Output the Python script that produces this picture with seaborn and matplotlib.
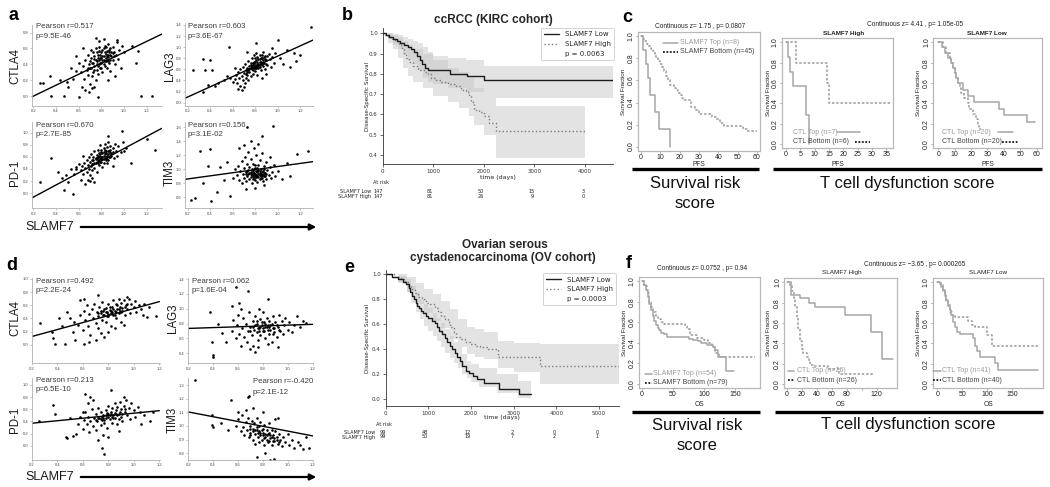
import pandas as pd
import seaborn as sns
import matplotlib.pyplot as plt
from matplotlib import transforms
from matplotlib.lines import Line2D

W, H = 1050, 487

# ---------------- panels a / d : SLAMF7 vs checkpoint genes ----------------
sc_xticks = [0.2, 0.4, 0.6, 0.8, 1.0, 1.2]

a_ctla4 = [(0.62, 0.30), (0.64, 0.38), (0.65, 0.22), (0.66, 0.45), (0.67, 0.33), (0.68, 0.27), (0.68, 0.52),
           (0.69, 0.40), (0.70, 0.15), (0.70, 0.35), (0.71, 0.48), (0.71, 0.58), (0.72, 0.25), (0.72, 0.42),
           (0.73, 0.30), (0.73, 0.55), (0.74, 0.38), (0.74, 0.47), (0.75, 0.20), (0.75, 0.60), (0.76, 0.33),
           (0.76, 0.44), (0.77, 0.52), (0.77, 0.28), (0.78, 0.40), (0.78, 0.62), (0.79, 0.48), (0.79, 0.35),
           (0.80, 0.55), (0.80, 0.42), (0.81, 0.30), (0.81, 0.58), (0.82, 0.46), (0.82, 0.50), (0.83, 0.38),
           (0.83, 0.63), (0.84, 0.53), (0.84, 0.44), (0.85, 0.57), (0.85, 0.36), (0.86, 0.49), (0.86, 0.66),
           (0.87, 0.42), (0.87, 0.55), (0.88, 0.60), (0.88, 0.32), (0.89, 0.50), (0.90, 0.45), (0.90, 0.62),
           (0.91, 0.56), (0.92, 0.40), (0.93, 0.52), (0.94, 0.68), (0.95, 0.47), (0.96, 0.58), (0.97, 0.35),
           (0.98, 0.63), (1.00, 0.55), (0.63, 0.12), (0.66, 0.08), (0.69, 0.05), (0.72, 0.10), (0.60, 0.42),
           (0.58, 0.50), (0.64, 0.60), (0.78, 0.70), (0.82, 0.72), (0.74, 0.12), (0.86, 0.20), (0.92, 0.25),
           (0.26, 0.17), (0.29, 0.17), (0.36, 0.00), (0.35, 0.25), (0.44, 0.20), (0.47, 0.00), (0.51, 0.11),
           (0.55, 0.22), (0.58, 0.32), (0.60, -0.01), (0.77, -0.01), (1.15, 0.00), (1.25, 0.00), (1.12, 0.57),
           (1.11, 0.42), (1.07, 0.63), (0.94, 0.71), (0.75, 0.73), (0.50, 0.18), (0.53, 0.35)]
a_ctla4_core = [(0.74, 0.50), (0.76, 0.40), (0.78, 0.45), (0.80, 0.48), (0.82, 0.40), (0.84, 0.48), (0.86, 0.44),
                (0.88, 0.52), (0.79, 0.52), (0.81, 0.50), (0.83, 0.55), (0.85, 0.46), (0.77, 0.38), (0.75, 0.46),
                (0.73, 0.42), (0.71, 0.36), (0.80, 0.36), (0.82, 0.60), (0.84, 0.62), (0.87, 0.58), (0.89, 0.56),
                (0.91, 0.50), (0.76, 0.55), (0.78, 0.57), (0.70, 0.44), (0.68, 0.36), (0.83, 0.44), (0.86, 0.52),
                (0.79, 0.42), (0.81, 0.46), (0.74, 0.33), (0.88, 0.46), (0.90, 0.54), (0.77, 0.48), (0.85, 0.50)]
a_lag3 = [(0.62, 0.42), (0.63, 0.50), (0.64, 0.36), (0.65, 0.55), (0.66, 0.45), (0.67, 0.30), (0.67, 0.60),
          (0.68, 0.48), (0.69, 0.40), (0.69, 0.65), (0.70, 0.53), (0.71, 0.35), (0.71, 0.70), (0.72, 0.58),
          (0.72, 0.45), (0.73, 0.62), (0.73, 0.50), (0.74, 0.75), (0.74, 0.40), (0.75, 0.66), (0.75, 0.55),
          (0.76, 0.48), (0.76, 0.72), (0.77, 0.60), (0.77, 0.80), (0.78, 0.52), (0.78, 0.68), (0.79, 0.62),
          (0.79, 0.85), (0.80, 0.57), (0.80, 0.74), (0.81, 0.66), (0.81, 0.90), (0.82, 0.70), (0.82, 0.50),
          (0.83, 0.78), (0.83, 0.62), (0.84, 0.85), (0.84, 0.68), (0.85, 0.74), (0.85, 0.58), (0.86, 0.80),
          (0.87, 0.66), (0.87, 0.92), (0.88, 0.72), (0.89, 0.60), (0.89, 0.84), (0.90, 0.76), (0.91, 0.68),
          (0.92, 0.88), (0.93, 0.78), (0.94, 0.64), (0.95, 0.82), (0.97, 0.72), (0.98, 0.90), (0.65, 0.25),
          (0.68, 0.22), (0.70, 0.28), (0.60, 0.38), (0.58, 0.45), (0.73, 0.92), (0.86, 0.45), (0.90, 0.52),
          (0.62, 0.62), (1.02, 0.80), (1.05, 0.70), (0.25, 0.58), (0.335, 0.78), (0.40, 0.76), (0.35, 0.58),
          (0.42, 0.58), (0.38, 0.32), (0.335, 0.20), (0.44, 0.30), (0.47, 0.36), (0.52, 0.40), (0.55, 0.48),
          (0.57, 1.01), (1.30, 1.37), (1.16, 0.75), (1.15, 0.89), (1.11, 0.65), (1.00, 1.13), (0.95, 0.98),
          (0.81, 1.07), (1.08, 0.95), (1.20, 0.85)]
a_lag3_core = [(0.78, 0.72), (0.80, 0.66), (0.82, 0.74), (0.84, 0.78), (0.86, 0.70), (0.76, 0.62), (0.79, 0.70),
               (0.81, 0.62), (0.83, 0.70), (0.85, 0.80), (0.87, 0.76), (0.88, 0.82), (0.74, 0.58), (0.72, 0.52),
               (0.77, 0.66), (0.80, 0.80), (0.82, 0.64), (0.84, 0.74), (0.86, 0.86), (0.90, 0.70), (0.75, 0.60),
               (0.78, 0.58), (0.81, 0.76), (0.83, 0.66), (0.85, 0.70), (0.79, 0.74), (0.76, 0.68), (0.89, 0.78),
               (0.91, 0.84), (0.73, 0.56), (0.80, 0.62), (0.84, 0.64), (0.87, 0.72), (0.82, 0.82), (0.78, 0.64)]
a_pd1 = [(0.62, 0.38), (0.63, 0.45), (0.64, 0.32), (0.65, 0.50), (0.66, 0.42), (0.67, 0.35), (0.67, 0.55),
         (0.68, 0.47), (0.69, 0.40), (0.69, 0.60), (0.70, 0.52), (0.70, 0.30), (0.71, 0.45), (0.71, 0.65),
         (0.72, 0.55), (0.72, 0.38), (0.73, 0.60), (0.73, 0.48), (0.74, 0.70), (0.74, 0.42), (0.75, 0.58),
         (0.75, 0.50), (0.76, 0.63), (0.76, 0.35), (0.77, 0.55), (0.77, 0.72), (0.78, 0.47), (0.78, 0.62),
         (0.79, 0.58), (0.79, 0.80), (0.80, 0.52), (0.80, 0.68), (0.81, 0.60), (0.81, 0.44), (0.82, 0.74),
         (0.82, 0.56), (0.83, 0.65), (0.83, 0.82), (0.84, 0.58), (0.84, 0.70), (0.85, 0.50), (0.85, 0.77),
         (0.86, 0.64), (0.86, 0.85), (0.87, 0.70), (0.88, 0.60), (0.88, 0.78), (0.89, 0.67), (0.90, 0.74),
         (0.91, 0.58), (0.92, 0.82), (0.93, 0.70), (0.94, 0.62), (0.95, 0.78), (0.97, 0.68), (0.60, 0.48),
         (0.58, 0.40), (0.62, 0.22), (0.66, 0.15), (0.70, 0.20), (0.64, 0.62), (0.72, 0.25), (0.90, 0.45),
         (1.02, 0.75), (0.99, 0.85), (0.56, 0.32), (0.53, 0.40), (0.26, 0.19), (0.36, 0.58), (0.45, 0.25),
         (0.47, 0.05), (0.55, -0.01), (0.51, 0.19), (0.58, 0.44), (0.98, 1.02), (1.20, 0.90), (1.27, 0.71),
         (1.06, 0.49), (1.00, 0.70), (0.68, 0.22), (0.74, 0.19), (0.42, 0.35), (0.49, 0.30), (0.86, 0.95)]
a_pd1_core = [(0.78, 0.55), (0.80, 0.60), (0.82, 0.62), (0.84, 0.66), (0.76, 0.52), (0.74, 0.50), (0.79, 0.64),
              (0.81, 0.56), (0.83, 0.58), (0.85, 0.62), (0.86, 0.70), (0.88, 0.66), (0.72, 0.48), (0.77, 0.60),
              (0.80, 0.72), (0.82, 0.50), (0.84, 0.54), (0.87, 0.60), (0.89, 0.62), (0.75, 0.56), (0.78, 0.66),
              (0.81, 0.66), (0.83, 0.72), (0.85, 0.56), (0.79, 0.52), (0.76, 0.58), (0.90, 0.68), (0.73, 0.54),
              (0.80, 0.56), (0.82, 0.68), (0.86, 0.54), (0.88, 0.72), (0.77, 0.50), (0.84, 0.60), (0.79, 0.60)]
a_tim3 = [(0.64, 0.92), (0.65, 1.05), (0.66, 0.85), (0.67, 0.98), (0.68, 1.12), (0.68, 0.80), (0.69, 0.94),
          (0.70, 1.02), (0.70, 0.88), (0.71, 1.18), (0.72, 0.96), (0.72, 0.83), (0.73, 1.08), (0.73, 0.90),
          (0.74, 1.25), (0.74, 0.99), (0.75, 0.86), (0.75, 1.03), (0.76, 0.93), (0.76, 1.15), (0.77, 0.80),
          (0.77, 1.00), (0.78, 0.90), (0.78, 1.08), (0.79, 0.95), (0.79, 1.30), (0.80, 0.85), (0.80, 1.02),
          (0.81, 0.92), (0.81, 1.20), (0.82, 0.98), (0.82, 0.82), (0.83, 1.06), (0.83, 0.89), (0.84, 0.95),
          (0.84, 1.14), (0.85, 0.87), (0.85, 1.00), (0.86, 0.92), (0.86, 1.24), (0.87, 0.97), (0.87, 0.83),
          (0.88, 1.05), (0.88, 0.90), (0.89, 0.95), (0.90, 1.10), (0.90, 0.86), (0.91, 0.99), (0.92, 0.92),
          (0.93, 1.03), (0.94, 0.88), (0.95, 0.96), (0.97, 1.06), (0.98, 0.90), (1.00, 0.98), (0.62, 1.00),
          (0.60, 0.88), (0.66, 1.30), (0.70, 1.35), (0.76, 1.40), (0.83, 1.36), (0.72, 0.72), (0.80, 0.74),
          (0.88, 0.78), (0.93, 1.18), (0.227, 0.56), (0.265, 0.59), (0.31, 1.26), (0.38, 1.05), (0.40, 1.29),
          (0.34, 0.81), (0.41, 0.55), (0.46, 0.67), (0.49, 1.03), (0.58, 0.62), (0.73, 1.60), (0.96, 1.62),
          (0.86, 1.48), (1.17, 1.22), (1.27, 1.26), (1.08, 1.09), (1.11, 0.91), (1.04, 0.86), (0.52, 0.85),
          (0.55, 1.10)]
a_tim3_core = [(0.78, 0.97), (0.80, 0.94), (0.82, 0.90), (0.84, 0.92), (0.76, 0.96), (0.74, 0.93), (0.79, 0.88),
               (0.81, 0.97), (0.83, 0.94), (0.85, 0.91), (0.86, 0.96), (0.88, 0.95), (0.72, 0.94), (0.77, 0.92),
               (0.80, 0.90), (0.82, 1.02), (0.84, 0.86), (0.87, 0.92), (0.89, 0.90), (0.75, 0.95), (0.78, 0.86),
               (0.81, 0.89), (0.83, 0.99), (0.85, 0.94), (0.79, 1.00), (0.76, 0.89), (0.90, 0.93), (0.73, 0.97),
               (0.80, 1.06), (0.82, 0.96), (0.86, 0.88), (0.88, 1.00), (0.77, 0.95), (0.84, 0.98), (0.79, 0.93)]

d_ctla4 = [(0.56, 0.30), (0.58, 0.45), (0.60, 0.22), (0.61, 0.52), (0.62, 0.38), (0.63, 0.60), (0.64, 0.28),
           (0.65, 0.47), (0.66, 0.15), (0.67, 0.55), (0.68, 0.40), (0.69, 0.62), (0.70, 0.33), (0.71, 0.50),
           (0.72, 0.44), (0.72, 0.25), (0.73, 0.58), (0.74, 0.48), (0.75, 0.38), (0.75, 0.65), (0.76, 0.52),
           (0.77, 0.45), (0.77, 0.12), (0.78, 0.56), (0.78, 0.35), (0.79, 0.50), (0.80, 0.62), (0.80, 0.44),
           (0.81, 0.53), (0.82, 0.28), (0.82, 0.48), (0.83, 0.58), (0.84, 0.46), (0.84, 0.68), (0.85, 0.52),
           (0.86, 0.40), (0.86, 0.62), (0.87, 0.55), (0.88, 0.48), (0.88, 0.70), (0.89, 0.58), (0.90, 0.35),
           (0.90, 0.64), (0.91, 0.52), (0.92, 0.68), (0.93, 0.45), (0.94, 0.60), (0.95, 0.55), (0.96, 0.70),
           (0.97, 0.48), (0.98, 0.62), (1.00, 0.58), (1.01, 0.66), (1.02, 0.50), (1.04, 0.60), (1.06, 0.55),
           (1.08, 0.62), (1.12, 0.58), (0.70, 0.08), (0.74, 0.18), (0.80, 0.20), (0.85, 0.25), (0.92, 0.30),
           (0.65, 0.05), (0.52, 0.20), (0.50, 0.40), (0.265, 0.33), (0.36, 0.20), (0.37, 0.10), (0.38, 0.02),
           (0.41, 0.41), (0.44, 0.28), (0.46, 0.02), (0.48, 0.50), (0.54, 0.08), (0.53, 0.35), (0.58, 0.68),
           (0.61, 0.69), (0.72, 0.76), (0.95, 0.72), (1.07, 0.45), (1.10, 0.42), (0.61, 0.02), (1.17, 0.44),
           (0.78, 0.50), (0.80, 0.47), (0.82, 0.52), (0.84, 0.55), (0.86, 0.50), (0.88, 0.54), (0.90, 0.50),
           (0.76, 0.46), (0.74, 0.52), (0.79, 0.44), (0.81, 0.58), (0.83, 0.50), (0.85, 0.46), (0.87, 0.60),
           (0.89, 0.52), (0.91, 0.56), (0.93, 0.58), (0.95, 0.62), (0.77, 0.54), (0.72, 0.48)]
d_lag3 = [(0.55, 0.70), (0.56, 0.85), (0.58, 0.60), (0.59, 0.78), (0.60, 0.92), (0.61, 0.66), (0.62, 0.50),
          (0.63, 0.74), (0.64, 0.88), (0.65, 0.62), (0.66, 0.80), (0.67, 0.55), (0.68, 0.70), (0.69, 0.95),
          (0.70, 0.76), (0.71, 0.64), (0.72, 0.84), (0.72, 0.50), (0.73, 0.72), (0.74, 0.90), (0.75, 0.68),
          (0.75, 0.80), (0.76, 0.58), (0.77, 0.74), (0.78, 0.86), (0.78, 0.64), (0.79, 0.78), (0.80, 0.70),
          (0.80, 0.96), (0.81, 0.82), (0.82, 0.60), (0.82, 0.76), (0.83, 0.88), (0.84, 0.72), (0.85, 0.66),
          (0.85, 0.84), (0.86, 0.78), (0.87, 0.55), (0.88, 0.90), (0.88, 0.74), (0.89, 0.68), (0.90, 0.82),
          (0.91, 0.62), (0.92, 0.76), (0.93, 0.92), (0.94, 0.70), (0.95, 0.84), (0.96, 0.66), (0.97, 0.78),
          (0.98, 0.88), (1.00, 0.72), (1.01, 0.82), (1.03, 0.68), (1.05, 0.78), (1.07, 0.90), (1.10, 0.76),
          (0.70, 0.46), (0.76, 0.48), (0.84, 0.52), (0.62, 1.00), (0.77, 1.00), (0.374, 0.96), (0.39, 0.55),
          (0.40, 0.35), (0.40, 0.38), (0.55, 1.04), (0.61, 1.08), (0.585, 1.29), (0.68, 1.24), (0.84, 1.13),
          (0.44, 0.80), (0.47, 0.67), (1.12, 0.83), (1.15, 0.81), (0.50, 0.55), (0.74, 0.42), (0.92, 0.48),
          (0.78, 0.76), (0.80, 0.74), (0.82, 0.80), (0.84, 0.78), (0.86, 0.72), (0.76, 0.74), (0.74, 0.78),
          (0.79, 0.82), (0.81, 0.70), (0.83, 0.76), (0.85, 0.76), (0.87, 0.80), (0.89, 0.74), (0.91, 0.78),
          (0.77, 0.70), (0.72, 0.76), (0.75, 0.84), (0.88, 0.66), (0.93, 0.72), (0.70, 0.70)]
d_pd1 = [(0.56, 0.35), (0.58, 0.48), (0.60, 0.28), (0.61, 0.42), (0.62, 0.55), (0.63, 0.36), (0.64, 0.48),
         (0.65, 0.22), (0.66, 0.40), (0.67, 0.60), (0.68, 0.32), (0.69, 0.46), (0.70, 0.52), (0.70, 0.26),
         (0.71, 0.40), (0.72, 0.62), (0.73, 0.45), (0.74, 0.34), (0.74, 0.55), (0.75, 0.42), (0.76, 0.50),
         (0.76, 0.18), (0.77, 0.38), (0.78, 0.58), (0.78, 0.46), (0.79, 0.30), (0.80, 0.52), (0.80, 0.66),
         (0.81, 0.44), (0.82, 0.56), (0.83, 0.38), (0.83, 0.62), (0.84, 0.50), (0.85, 0.70), (0.85, 0.45),
         (0.86, 0.58), (0.87, 0.35), (0.87, 0.64), (0.88, 0.52), (0.89, 0.72), (0.90, 0.48), (0.90, 0.60),
         (0.91, 0.40), (0.92, 0.66), (0.93, 0.55), (0.94, 0.75), (0.95, 0.50), (0.96, 0.62), (0.97, 0.44),
         (0.98, 0.70), (1.00, 0.58), (1.01, 0.48), (1.03, 0.64), (1.05, 0.55), (1.08, 0.50), (0.72, 0.10),
         (0.80, 0.14), (0.88, 0.24), (0.68, 0.76), (0.92, 0.80), (0.64, 0.70), (0.26, 0.40), (0.37, 0.67),
         (0.38, 0.53), (0.47, 0.15), (0.48, 0.12), (0.52, 0.16), (0.55, 0.19), (0.60, 0.56), (0.62, 0.85),
         (0.66, 0.80), (0.75, -0.04), (0.77, -0.13), (0.82, 0.92), (1.06, 0.36), (1.13, 0.40), (0.50, 0.45),
         (1.15, 0.55), (0.78, 0.50), (0.80, 0.48), (0.82, 0.52), (0.84, 0.46), (0.86, 0.52), (0.76, 0.46),
         (0.74, 0.44), (0.79, 0.54), (0.81, 0.50), (0.83, 0.48), (0.85, 0.54), (0.87, 0.50), (0.89, 0.56),
         (0.91, 0.52), (0.77, 0.42), (0.72, 0.46), (0.75, 0.48), (0.88, 0.44), (0.93, 0.60), (0.70, 0.42)]
d_tim3 = [(0.58, 1.00), (0.60, 1.05), (0.62, 0.96), (0.63, 1.08), (0.64, 0.99), (0.65, 0.93), (0.66, 1.03),
          (0.67, 0.97), (0.68, 1.06), (0.69, 0.92), (0.70, 1.00), (0.70, 0.95), (0.71, 1.04), (0.72, 0.90),
          (0.72, 0.98), (0.73, 1.02), (0.74, 0.94), (0.74, 0.87), (0.75, 0.97), (0.75, 1.06), (0.76, 0.92),
          (0.77, 1.00), (0.77, 0.88), (0.78, 0.95), (0.78, 1.03), (0.79, 0.90), (0.80, 0.98), (0.80, 0.93),
          (0.81, 0.86), (0.81, 1.01), (0.82, 0.94), (0.83, 0.90), (0.83, 0.97), (0.84, 0.88), (0.85, 0.95),
          (0.85, 1.02), (0.86, 0.91), (0.87, 0.86), (0.87, 0.97), (0.88, 0.93), (0.89, 0.89), (0.90, 0.96),
          (0.90, 1.05), (0.91, 0.92), (0.92, 0.87), (0.93, 0.94), (0.94, 0.90), (0.95, 0.85), (0.96, 0.92),
          (0.98, 0.88), (1.00, 0.94), (1.01, 0.86), (1.03, 0.90), (1.05, 0.84), (1.08, 0.88), (1.10, 0.86),
          (1.12, 0.83), (1.17, 0.84), (0.66, 1.12), (0.72, 1.13), (0.80, 1.10), (0.92, 1.06), (0.25, 1.34),
          (0.39, 1.08), (0.39, 1.005), (0.40, 0.99), (0.54, 1.19), (0.60, 1.10), (0.68, 1.21), (0.69, 1.22),
          (0.52, 0.97), (0.70, 0.93), (0.75, 0.77), (0.82, 0.80), (0.86, 0.75), (0.89, 0.76), (0.46, 1.02),
          (1.15, 0.92), (0.78, 0.93), (0.80, 0.95), (0.82, 0.92), (0.84, 0.94), (0.86, 0.93), (0.76, 0.95),
          (0.74, 0.97), (0.79, 0.97), (0.81, 0.91), (0.83, 0.93), (0.85, 0.89), (0.87, 0.92), (0.89, 0.91),
          (0.91, 0.90), (0.77, 0.96), (0.72, 0.96), (0.75, 0.99), (0.88, 0.89), (0.93, 0.88), (0.70, 0.98)]

# regression line end points
a_fit_x = [0.186, 1.333]
a_fit_x2 = [0.176, 1.318]
a_ctla4_fit = [-0.01, 0.78]
a_lag3_fit = [0.08, 1.13]
a_pd1_fit = [-0.08, 1.07]
a_tim3_fit = [0.857, 1.11]
d_fit_x = [0.2, 1.2]
d_ctla4_fit = [0.126, 0.656]
d_lag3_fit = [0.735, 0.79]
d_pd1_fit = [0.37, 0.577]
d_tim3_fit = [1.103, 0.927]

a_stats = ['Pearson r=0.517\np=9.5E-46', 'Pearson r=0.603\np=3.6E-67',
           'Pearson r=0.670\np=2.7E-85', 'Pearson r=0.156\np=3.1E-02']
d_stats = ['Pearson r=0.492\np=2.2E-24', 'Pearson r=0.062\np=1.6E-04',
           'Pearson r=0.213\np=6.5E-10', 'Pearson r=-0.420\np=2.1E-12']
genes = ['CTLA4', 'LAG3', 'PD-1', 'TIM3']

# ---------------- panel b : KIRC Kaplan-Meier ----------------
b_low_t = [0, 60, 120, 200, 280, 350, 420, 500, 560, 620, 680, 730, 780, 840, 900, 1330, 1660, 2000, 4550]
b_low_s = [1.0, 0.99, 0.98, 0.97, 0.96, 0.95, 0.94, 0.93, 0.92, 0.91, 0.89, 0.87, 0.85, 0.83, 0.82, 0.80,
           0.79, 0.77, 0.77]
b_high_t = [0, 50, 100, 180, 250, 320, 380, 420, 470, 520, 600, 700, 820, 900, 960, 1050, 1150, 1300, 1450,
            1550, 1650, 1700, 1750, 1800, 1900, 2000, 2100, 2240, 4000]
b_high_s = [1.0, 0.99, 0.98, 0.97, 0.96, 0.94, 0.92, 0.90, 0.88, 0.86, 0.84, 0.82, 0.81, 0.80, 0.78, 0.77,
            0.76, 0.75, 0.74, 0.72, 0.71, 0.69, 0.66, 0.62, 0.61, 0.59, 0.56, 0.52, 0.52]
b_low_band_t = [0, 100, 200, 300, 400, 500, 600, 700, 800, 900, 1000, 1300, 1650, 2000, 4550]
b_low_lo = [1.0, 0.97, 0.94, 0.92, 0.90, 0.87, 0.85, 0.82, 0.78, 0.76, 0.75, 0.73, 0.71, 0.68, 0.68]
b_low_hi = [1.0, 1.0, 0.995, 0.99, 0.98, 0.97, 0.96, 0.95, 0.93, 0.91, 0.89, 0.88, 0.87, 0.84, 0.84]
b_high_band_t = [0, 100, 200, 300, 400, 500, 600, 800, 1000, 1300, 1500, 1700, 1800, 2000, 2240, 4000]
b_high_lo = [1.0, 0.95, 0.92, 0.88, 0.83, 0.79, 0.76, 0.73, 0.69, 0.66, 0.63, 0.59, 0.55, 0.50, 0.385, 0.385]
b_high_hi = [1.0, 1.0, 0.99, 0.98, 0.96, 0.94, 0.92, 0.90, 0.87, 0.83, 0.81, 0.78, 0.73, 0.68, 0.64, 0.64]
b_risk_t = [0, 1000, 2000, 3000, 4000]
b_risk_low = [147, 81, 50, 15, 3]
b_risk_high = [147, 81, 26, 9, 0]

# ---------------- panel e : OV Kaplan-Meier ----------------
e_low_t = [0, 150, 300, 400, 480, 540, 580, 620, 660, 700, 740, 780, 830, 880, 950, 1000, 1080, 1150, 1200,
           1260, 1320, 1380, 1440, 1500, 1560, 1620, 1680, 1740, 1800, 1880, 1950, 2050, 2150, 2300, 2650,
           3130, 3400]
e_low_s = [1.0, 0.98, 0.96, 0.94, 0.92, 0.89, 0.86, 0.83, 0.80, 0.77, 0.75, 0.73, 0.71, 0.69, 0.67, 0.65,
           0.63, 0.61, 0.58, 0.55, 0.52, 0.49, 0.46, 0.43, 0.40, 0.37, 0.34, 0.31, 0.27, 0.23, 0.21, 0.19,
           0.16, 0.13, 0.085, 0.04, 0.04]
e_high_t = [0, 200, 350, 450, 530, 600, 680, 760, 850, 950, 1050, 1150, 1230, 1300, 1380, 1450, 1520, 1600,
            1660, 1750, 1850, 1980, 2100, 2210, 2400, 2640, 3620, 5480]
e_high_s = [1.0, 0.98, 0.96, 0.94, 0.91, 0.88, 0.85, 0.82, 0.80, 0.77, 0.76, 0.73, 0.70, 0.67, 0.64, 0.62,
            0.58, 0.54, 0.50, 0.48, 0.46, 0.445, 0.43, 0.42, 0.40, 0.34, 0.27, 0.27]
e_low_band_t = [0, 300, 500, 600, 700, 800, 900, 1000, 1100, 1200, 1300, 1400, 1500, 1600, 1700, 1800, 1900,
                2000, 2200, 2600, 3100, 3400]
e_low_lo = [1.0, 0.94, 0.86, 0.77, 0.70, 0.64, 0.59, 0.55, 0.51, 0.47, 0.42, 0.37, 0.33, 0.29, 0.25, 0.20,
            0.17, 0.14, 0.10, 0.05, 0.01, 0.01]
e_low_hi = [1.0, 0.99, 0.96, 0.91, 0.86, 0.80, 0.76, 0.73, 0.69, 0.65, 0.61, 0.56, 0.51, 0.46, 0.42, 0.36,
            0.31, 0.28, 0.25, 0.20, 0.15, 0.15]
e_high_band_t = [0, 300, 500, 700, 900, 1100, 1300, 1500, 1700, 1900, 2100, 2300, 2640, 3000, 3620, 5480]
e_high_lo = [1.0, 0.93, 0.86, 0.76, 0.69, 0.63, 0.57, 0.48, 0.42, 0.36, 0.34, 0.32, 0.25, 0.22, 0.12, 0.12]
e_high_hi = [1.0, 1.0, 0.98, 0.93, 0.88, 0.84, 0.79, 0.72, 0.64, 0.58, 0.56, 0.54, 0.47, 0.45, 0.44, 0.44]
e_risk_t = [0, 1000, 2000, 3000, 4000, 5000]
e_risk_low = [99, 48, 12, 2, 0, 0]
e_risk_high = [99, 50, 19, 7, 2, 1]

# ---------------- panels c / f : TIDE style survival curves ----------------
c1_top_t = [0, 1, 2.5, 3.5, 4.5, 7, 9.5, 15]
c1_top_s = [1.0, 0.875, 0.75, 0.625, 0.47, 0.31, 0.16, 0.0]
c1_bot_t = [0, 1, 2, 3, 4, 5, 6, 7, 8, 9, 10, 11, 12, 13, 14, 15, 17, 18, 19, 20, 21, 22, 26, 28, 30, 37,
            39, 41, 43, 53, 55, 60]
c1_bot_s = [1.0, 0.98, 0.96, 0.93, 0.91, 0.89, 0.87, 0.84, 0.80, 0.78, 0.75, 0.72, 0.69, 0.64, 0.60, 0.56,
            0.53, 0.51, 0.49, 0.47, 0.44, 0.42, 0.36, 0.33, 0.30, 0.27, 0.25, 0.21, 0.19, 0.16, 0.14, 0.14]
c2_top_t = [0, 0.6, 1.6, 2.6, 7.0, 8.0]
c2_top_s = [1.0, 0.857, 0.714, 0.571, 0.286, 0.0]
c2_bot_t = [0, 3.4, 14.2, 15.0, 36.5]
c2_bot_s = [1.0, 0.8, 0.6, 0.4, 0.4]
c3_top_t = [0, 2, 4, 6, 8, 9, 10, 11, 12, 15, 18, 22, 37, 40, 54, 59]
c3_top_s = [1.0, 0.95, 0.90, 0.85, 0.80, 0.75, 0.70, 0.65, 0.60, 0.53, 0.47, 0.41, 0.35, 0.29, 0.22, 0.22]
c3_bot_t = [0, 3, 5, 7, 8, 9, 10, 11, 12, 13, 14, 16, 18, 19, 21, 23, 24, 25, 26]
c3_bot_s = [1.0, 0.95, 0.90, 0.85, 0.80, 0.75, 0.70, 0.65, 0.60, 0.55, 0.50, 0.45, 0.40, 0.35, 0.30, 0.25,
            0.20, 0.15, 0.15]

f1_top_t = [0, 3, 6, 9, 11, 14, 17, 19, 22, 25, 27, 31, 35, 41, 76, 82, 90, 95, 105, 114, 118, 122, 136, 148]
f1_top_s = [1.0, 0.96, 0.91, 0.85, 0.78, 0.72, 0.66, 0.61, 0.57, 0.54, 0.52, 0.50, 0.49, 0.46, 0.44, 0.43,
            0.42, 0.40, 0.38, 0.36, 0.33, 0.26, 0.13, 0.13]
f1_bot_t = [0, 4, 8, 11, 14, 18, 22, 26, 30, 36, 70, 72, 78, 88, 100, 106, 112, 118, 124, 182]
f1_bot_s = [1.0, 0.95, 0.88, 0.80, 0.75, 0.70, 0.66, 0.63, 0.60, 0.58, 0.57, 0.53, 0.48, 0.45, 0.43, 0.40,
            0.36, 0.30, 0.26, 0.26]
f2_top_t = [0, 6, 18, 29, 38, 78, 112, 127, 142]
f2_top_s = [1.0, 0.88, 0.85, 0.80, 0.76, 0.68, 0.51, 0.25, 0.25]
f2_bot_t = [0, 4, 7, 9, 11, 13, 15.5, 18, 20, 22, 27, 29, 31, 36, 55, 70, 115]
f2_bot_s = [1.0, 0.96, 0.92, 0.85, 0.77, 0.65, 0.55, 0.42, 0.35, 0.31, 0.27, 0.23, 0.19, 0.18, 0.15, 0.096,
            0.096]
f3_top_t = [0, 5, 8, 11, 15, 18, 21, 25, 28, 31, 35, 40, 45, 71, 75, 80, 85, 115, 121, 202]
f3_top_s = [1.0, 0.98, 0.95, 0.93, 0.88, 0.83, 0.78, 0.73, 0.68, 0.61, 0.56, 0.51, 0.49, 0.45, 0.38, 0.33,
            0.27, 0.21, 0.14, 0.14]
f3_bot_t = [0, 8, 12, 15, 18, 22, 26, 30, 35, 62, 70, 75, 100, 110, 204]
f3_bot_s = [1.0, 0.97, 0.92, 0.87, 0.82, 0.77, 0.71, 0.68, 0.66, 0.62, 0.58, 0.56, 0.48, 0.38, 0.38]


sns.set_theme(style='ticks')
plt.rcParams['font.family'] = ['Liberation Sans', 'DejaVu Sans']

fig = plt.figure(figsize=(W / 100, H / 100), dpi=100)
ov = fig.add_axes([0, 0, 1, 1])
ov.set_xlim(0, W)
ov.set_ylim(H, 0)
ov.axis('off')
ov.set_zorder(10)
ov.patch.set_visible(False)


def px_axes(l, t, r, b):
    return fig.add_axes([l / W, 1 - b / H, (r - l) / W, (b - t) / H])


def scatter_panel(box, pts, fit_x, fit_y, xlim, ylim, yticks):
    ax = px_axes(*box)
    df = pd.DataFrame(pts, columns=['slamf7', 'gene'])
    sns.scatterplot(data=df, x='slamf7', y='gene', ax=ax, s=3.5, color='black',
                    linewidth=0, legend=False)
    sns.lineplot(x=fit_x, y=fit_y, ax=ax, color='black', linewidth=1.0)
    ax.set_xlim(xlim)
    ax.set_ylim(ylim)
    ax.set_xticks(sc_xticks)
    ax.set_xticklabels([f'{v:.1f}' for v in sc_xticks])
    ax.set_yticks(yticks)
    ax.set_yticklabels([f'{v:.1f}' for v in yticks])
    ax.set_xlabel('')
    ax.set_ylabel('')
    sns.despine(ax=ax)
    for s in ['left', 'bottom']:
        ax.spines[s].set_color('#b0b0b0')
        ax.spines[s].set_linewidth(0.6)
    ax.tick_params(labelsize=3, length=1.5, width=0.4, color='#999999', labelcolor='#444444', pad=1)
    return ax


def steps(ax, t, s, **kw):
    sns.lineplot(x=t, y=s, ax=ax, drawstyle='steps-post', estimator=None, sort=False, legend=False, **kw)


def r_panel(box, xlim, xticks, xticklabels, curves):
    ax = px_axes(*box)
    for t, s, kw in curves:
        steps(ax, t, s, **kw)
    ax.set_xlim(xlim)
    ax.set_ylim(-0.04, 1.04)
    ax.set_xticks(xticks)
    ax.set_xticklabels(xticklabels)
    yt = [0, 0.2, 0.4, 0.6, 0.8, 1.0]
    ax.set_yticks(yt)
    ax.set_yticklabels([f'{v:.1f}' for v in yt], rotation=90, va='center')
    for sp in ax.spines.values():
        sp.set_visible(True)
        sp.set_color('#b8b8b8')
        sp.set_linewidth(0.9)
    ax.tick_params(labelsize=5, length=1.5, width=0.5, color='#888888', labelcolor='#222222', pad=0.8)
    ax.set_xlabel('')
    ax.set_ylabel('')
    return ax


# ---- scatter panels ----
a_boxes = [(31.7, 25, 161.7, 106), (185, 23, 313.3, 106), (31.7, 121.7, 161.7, 208.3), (185, 121.7, 313.3, 208.3)]
a_pts = [a_ctla4 + a_ctla4_core, a_lag3 + a_lag3_core, a_pd1 + a_pd1_core, a_tim3 + a_tim3_core]
a_fits = [a_ctla4_fit, a_lag3_fit, a_pd1_fit, a_tim3_fit]
a_xl = [(0.186, 1.333), (0.176, 1.318), (0.186, 1.333), (0.176, 1.318)]
a_fx = [a_fit_x, a_fit_x2, a_fit_x, a_fit_x2]
a_yl = [(-0.124, 0.895), (-0.06, 1.435), (-0.25, 1.18), (0.443, 1.68)]
a_yt = [[0, 0.2, 0.4, 0.6, 0.8], [0, 0.2, 0.4, 0.6, 0.8, 1.0, 1.2, 1.4],
        [0, 0.2, 0.4, 0.6, 0.8, 1.0], [0.6, 0.8, 1.0, 1.2, 1.4, 1.6]]
for i in range(4):
    scatter_panel(a_boxes[i], a_pts[i], a_fx[i], a_fits[i], a_xl[i], a_yl[i], a_yt[i])

d_boxes = [(31.7, 278.3, 160, 363.3), (188.3, 278.3, 313.3, 363.3), (31.7, 378.3, 160, 460), (188.3, 378.3, 313.3, 460)]
d_pts = [d_ctla4, d_lag3, d_pd1, d_tim3]
d_fits = [d_ctla4_fit, d_lag3_fit, d_pd1_fit, d_tim3_fit]
d_yl = [(-0.28, 1.01), (0.265, 1.41), (-0.235, 1.11), (0.75, 1.35)]
d_yt = [[0, 0.2, 0.4, 0.6, 0.8, 1.0], [0.4, 0.6, 0.8, 1.0, 1.2, 1.4],
        [0, 0.2, 0.4, 0.6, 0.8, 1.0], [0.8, 0.9, 1.0, 1.1, 1.2, 1.3]]
for i in range(4):
    scatter_panel(d_boxes[i], d_pts[i], d_fit_x, d_fits[i], (0.2, 1.205), d_yl[i], d_yt[i])

# gene labels and stats
txt = dict(ha='center', va='center', fontsize=8.3, rotation=90, color='#1a1a1a')
for (x, y), g in zip([(15, 66), (170, 66), (15, 173), (170, 173)], genes):
    ov.text(x, y, g, **txt)
for (x, y), g in zip([(15, 318), (173, 318), (15, 420), (173, 420)], genes):
    ov.text(x, y, g, **txt)
st = dict(fontsize=5.6, color='#3a3a3a', va='top', linespacing=1.45)
for (x, y), s in zip([(36, 23.5), (188, 23.5), (36, 122), (188, 122)], a_stats):
    ov.text(x, y, s, **st)
for (x, y), s in zip([(36, 278), (192, 278), (36, 377)], d_stats[:3]):
    ov.text(x, y, s, **st)
ov.text(313, 378, 'Pearson r=-0.420', ha='right', **st)
ov.text(253, 388.7, 'p=2.1E-12', **st)

for y in [227, 477]:
    ov.text(25, y, 'SLAMF7', fontsize=9, va='center', ha='left', color='#1a1a1a')
    ov.annotate('', xy=(319, y), xytext=(78, y),
                arrowprops=dict(arrowstyle='-|>', lw=1.6, color='black', mutation_scale=9))


# ---- KM panels b / e ----
def km_panel(box, ylim, xlim, yticks, xticks, lowc, highc, lowband, highband, ptxt, leg_anchor):
    ax = px_axes(*box)
    ax.fill_between(lowband[0], lowband[1], lowband[2], step='post', color='#c2c2c2', alpha=0.45, lw=0)
    ax.fill_between(highband[0], highband[1], highband[2], step='post', color='#c2c2c2', alpha=0.45, lw=0)
    steps(ax, highc[0], highc[1], color='#7c7c7c', linestyle=':', linewidth=1.0)
    steps(ax, lowc[0], lowc[1], color='#1c1c1c', linewidth=1.0)
    ax.set_xlim(xlim)
    ax.set_ylim(ylim)
    ax.set_xticks(xticks)
    ax.set_yticks(yticks)
    ax.set_yticklabels([f'{v:.1f}' for v in yticks])
    ax.set_xlabel('')
    ax.set_ylabel('')
    sns.despine(ax=ax)
    for s in ['left', 'bottom']:
        ax.spines[s].set_color('#333333')
        ax.spines[s].set_linewidth(0.6)
    ax.tick_params(labelsize=4, length=2, width=0.5, color='#333333', labelcolor='#333333', pad=1.5)
    for lab in ax.get_xticklabels() + ax.get_yticklabels():
        lab.set_family('DejaVu Sans')
    handles = [Line2D([], [], color='#1c1c1c', lw=1.0),
               Line2D([], [], color='#7c7c7c', lw=1.0, linestyle=':'),
               Line2D([], [], color='none')]
    leg = ax.legend(handles, ['SLAMF7 Low', 'SLAMF7 High', ptxt], loc='upper right',
                    bbox_to_anchor=leg_anchor, frameon=True, fancybox=True,
                    handlelength=2.2, borderpad=0.45, labelspacing=0.55, framealpha=1,
                    prop={'family': 'DejaVu Sans', 'size': 5})
    leg.get_frame().set_edgecolor('#cccccc')
    leg.get_frame().set_linewidth(0.6)
    return ax


def risk_table(ax, ticks, low, high, x_lab, y_head, y1, y2):
    tr = transforms.blended_transform_factory(ax.transData, ov.transData)
    kw = dict(fontsize=3.6, family='DejaVu Sans', color='#222222', va='center')
    ov.text(x_lab + 1.5, y_head, 'At risk', ha='left', **kw)
    ov.text(x_lab, y1, 'SLAMF7 Low', ha='right', **kw)
    ov.text(x_lab, y2, 'SLAMF7 High', ha='right', **kw)
    for t, n1, n2 in zip(ticks, low, high):
        ax.text(t, y1, str(n1), transform=tr, ha='right', **kw)
        ax.text(t, y2, str(n2), transform=tr, ha='right', **kw)


ax_b = km_panel((382.7, 28, 612.7, 164.3), (0.354, 1.026), (0, 4550),
                [0.4, 0.5, 0.6, 0.7, 0.8, 0.9, 1.0], [0, 1000, 2000, 3000, 4000],
                (b_low_t, b_low_s), (b_high_t, b_high_s),
                (b_low_band_t, b_low_lo, b_low_hi), (b_high_band_t, b_high_lo, b_high_hi),
                'p = 0.0063', (1.02, 1.025))
risk_table(ax_b, b_risk_t, b_risk_low, b_risk_high, 371.5, 183, 191.5, 196.5)

ax_e = km_panel((385.7, 270, 619.3, 406), (-0.054, 1.034), (0, 5480),
                [0.0, 0.2, 0.4, 0.6, 0.8, 1.0], [0, 1000, 2000, 3000, 4000, 5000],
                (e_low_t, e_low_s), (e_high_t, e_high_s),
                (e_low_band_t, e_low_lo, e_low_hi), (e_high_band_t, e_high_lo, e_high_hi),
                'p = 0.0003', (1.0, 1.0))
risk_table(ax_e, e_risk_t, e_risk_low, e_risk_high, 375, 424, 432, 437)

km_lab = dict(family='DejaVu Sans', color='#222222', ha='center', va='center')
ov.text(367, 96, 'Disease-Specific Survival', rotation=90, fontsize=4, **km_lab)
ov.text(368, 338, 'Disease-Specific Survival', rotation=90, fontsize=4, **km_lab)
ov.text(497.7, 177.5, 'time (days)', fontsize=4.5, **km_lab)
ov.text(502, 418, 'time (days)', fontsize=4.5, **km_lab)
ov.text(493.5, 20, 'ccRCC (KIRC cohort)', fontsize=8.5, fontweight='bold', ha='center', va='center')
ov.text(505, 245, 'Ovarian serous', fontsize=8.5, fontweight='bold', ha='center', va='center')
ov.text(503, 257.5, 'cystadenocarcinoma (OV cohort)', fontsize=8.5, fontweight='bold', ha='center', va='center')

# ---- R style panels c / f ----
top_kw = dict(color='#a6a6a6', linewidth=1.1)
bot_kw = dict(color='#9a9a9a', linewidth=1.1, linestyle=(0, (1.6, 1.2)))
r_panel((638, 32, 760, 151), (-1.55, 61.6), [0, 10, 20, 30, 40, 50, 60], ['0', '10', '20', '30', '40', '50', '60'],
        [(c1_bot_t, c1_bot_s, bot_kw), (c1_top_t, c1_top_s, top_kw)])
r_panel((781.7, 38.3, 893.3, 148.3), (-1.45, 37.4), [0, 5, 10, 15, 20, 25, 30, 35],
        ['0', '5', '10', '15', '20', '25', '30', '35'],
        [(c2_bot_t, c2_bot_s, bot_kw), (c2_top_t, c2_top_s, top_kw)])
r_panel((933.3, 38.3, 1042.3, 148.3), (-3.0, 63.4), [0, 10, 20, 30, 40, 50, 60],
        ['0', '10', '20', '30', '40', '50', '60'],
        [(c3_bot_t, c3_bot_s, bot_kw), (c3_top_t, c3_top_s, top_kw)])
r_panel((639, 277, 760, 388), (-4.8, 190), [0, 50, 100, 150], ['0', '50', '100', '150'],
        [(f1_bot_t, f1_bot_s, bot_kw), (f1_top_t, f1_top_s, top_kw)])
r_panel((784.3, 278.3, 896.7, 388.3), (-3.5, 147), [0, 20, 40, 60, 80, 100, 120],
        ['0', '20', '40', '60', '80', '', '120'],
        [(f2_bot_t, f2_bot_s, bot_kw), (f2_top_t, f2_top_s, top_kw)])
r_panel((932.7, 278.3, 1043.3, 388.3), (-9, 212), [0, 50, 100, 150], ['0', '50', '100', '150'],
        [(f3_bot_t, f3_bot_s, bot_kw), (f3_top_t, f3_top_s, top_kw)])

rt = dict(ha='center', va='center', color='#222222')
ov.text(700, 27, 'Continuous z= 1.75 , p= 0.0807', fontsize=4.7, **rt)
ov.text(915, 24.3, 'Continuous z= 4.41 , p= 1.05e-05', fontsize=4.7, **rt)
ov.text(843.3, 33.3, 'SLAMF7 High', fontsize=4.6, fontweight='bold', **rt)
ov.text(986.7, 33.3, 'SLAMF7 Low', fontsize=4.6, fontweight='bold', **rt)
ov.text(702.5, 268.5, 'Continuous z= 0.0752 , p= 0.94', fontsize=4.7, **rt)
ov.text(915, 264.3, 'Continuous z= \u22123.65 , p= 0.000265', fontsize=4.7, **rt)
ov.text(841.7, 272.5, 'SLAMF7 High', fontsize=4.6, **rt)
ov.text(988.3, 272.5, 'SLAMF7 Low', fontsize=4.6, **rt)
for x, y in [(623.5, 91.5), (769, 93.3), (918, 93.3), (624, 332.5), (769, 333.3), (918, 333.3)]:
    ov.text(x, y, 'Survival Fraction', rotation=90, fontsize=4.5, **rt)
for x in [699, 837.5, 987.8]:
    ov.text(x, 164.5, 'PFS', fontsize=4.8, **rt)
for x in [699.5, 840.5, 988]:
    ov.text(x, 404, 'OS', fontsize=4.8, **rt)


def r_legend(entries):
    # entries: (line_x0, line_x1, text_x, y, label, solid)
    for x0, x1, tx, y, label, solid in entries:
        if solid:
            ov.plot([x0, x1], [y, y], color='#a6a6a6', lw=1.1)
            col = '#9a9a9a'
        else:
            ov.plot([x0, x1], [y, y], color='#1a1a1a', lw=1.3, linestyle=(0, (1.0, 0.9)))
            col = '#444444'
        ov.text(tx, y, label, fontsize=5, color=col, ha='left', va='center')


r_legend([(663, 678, 680.5, 42.7, 'SLAMF7 Top (n=8)', True),
          (663, 678, 680.5, 51.7, 'SLAMF7 Bottom (n=45)', False),
          (836.7, 860, 793.3, 132.3, 'CTL Top (n=7)', True),
          (855, 870, 793.3, 141.7, 'CTL Bottom (n=6)', False),
          (998, 1013, 941.7, 132.3, 'CTL Top (n=20)', True),
          (1001.7, 1018.3, 941.7, 141.7, 'CTL Bottom (n=20)', False),
          (645, 651.7, 653.3, 373.5, 'SLAMF7 Top (n=54)', True),
          (645, 651.7, 653.3, 382.5, 'SLAMF7 Bottom (n=79)', False),
          (787.7, 794.3, 796.7, 371, 'CTL Top (n=26)', True),
          (787.7, 794.3, 796.7, 380, 'CTL Bottom (n=26)', False),
          (933.3, 941, 942.3, 371, 'CTL Top (n=41)', True),
          (933.3, 941, 942.3, 380, 'CTL Bottom (n=40)', False)])

# black bars and captions
for (x0, x1, y) in [(632, 759, 169), (773, 1042, 169), (632, 760, 411.7), (775, 1043, 411.7)]:
    ov.plot([x0, x1], [y, y], color='black', lw=2.4, solid_capstyle='butt')
cap = dict(fontsize=12, color='#111111', ha='center', va='center')
ov.text(695, 183.5, 'Survival risk', **cap)
ov.text(695, 203, 'score', **cap)
ov.text(907, 183.5, 'T cell dysfunction score', **cap)
ov.text(697, 425, 'Survival risk', **cap)
ov.text(697, 445, 'score', **cap)
ov.text(908, 425, 'T cell dysfunction score', **cap)

# panel letters
for (x, y), l in zip([(13.3, 15.5), (347.5, 16), (627.5, 17), (11.7, 265.5), (349, 267), (629, 264)],
                     ['a', 'b', 'c', 'd', 'e', 'f']):
    ov.text(x, y, l, fontsize=13, fontweight='bold', ha='center', va='center', color='black')

fig.savefig('out.png', dpi=100)
